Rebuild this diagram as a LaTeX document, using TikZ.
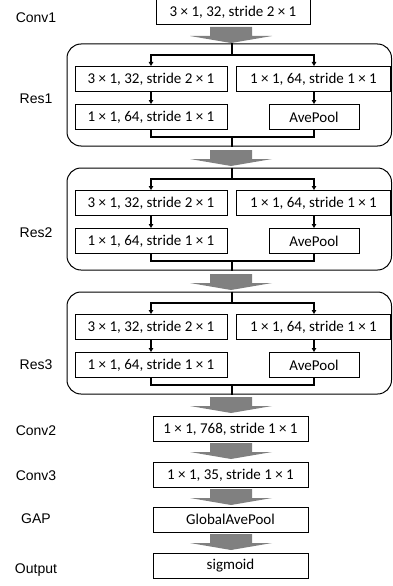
\documentclass[tikz,border=0pt]{standalone}
\usepackage{fontspec}
\setmainfont{Carlito}
\newfontfamily\labfont{Liberation Sans}
\usetikzlibrary{arrows.meta}
\newcommand\resblock[4]{%
  \node[outerbox] (#1) at (229.25,#2+51) {};
  \node[lab] at (36,#3) {#4};
  \node[box, minimum width=152pt] (#1a) at (151,#2+35) {3 × 1, 32, stride 2 × 1};
  \node[box, minimum width=154pt] (#1b) at (313.5,#2+35) {1 × 1, 64, stride 1 × 1};
  \node[box, minimum width=152pt] (#1c) at (151,#2+73) {1 × 1, 64, stride 1 × 1};
  \node[box, minimum width=90pt] (#1d) at (314,#2+73) {AvePool};
  \coordinate (#1t) at (232,#2+11);
  \coordinate (#1u) at (232,#2+93);
  \draw[con] (#1.north -| #1t) -- (#1t);
  \draw[arr] (#1t) -| (#1a.north);
  \draw[arr] (#1t) -| (#1b.north -| #1d.north);
  \draw[arr] (#1a) -- (#1c);
  \draw[arr] (#1b.south -| #1d.north) -- (#1d.north);
  \draw[con] (#1c.south) |- (#1u) -| (#1d.south);
  \draw[con] (#1u) -- (#1.south -| #1u);
}
\newcommand\bigarrow[2]{%
  \fill[bigarr] (210,#1) -- (252,#1) -- (252,#1+9) -- (272,#1+9) -- (231,#2)
    -- (190,#1+9) -- (210,#1+9) -- cycle;
}
\begin{document}
\begin{tikzpicture}[x=1pt,y=-1pt,
  box/.style={draw, line width=1pt, minimum height=25pt, inner sep=0pt,
    font=\fontsize{15}{17}\selectfont},
  lab/.style={font=\labfont\fontsize{14}{16}\selectfont, anchor=base, inner sep=0pt},
  con/.style={line width=1.3pt},
  arr/.style={con, -{Triangle[length=4pt,width=4.5pt]}},
  outerbox/.style={draw, line width=1pt, rounded corners=14pt,
    minimum width=324.5pt, minimum height=102pt, inner sep=0pt},
  bigarr/.style={fill=black!50}]
\useasboundingbox (0,0) rectangle (393,586);
% Conv1
\node[box, minimum width=154pt] (conv1) at (233,12.5) {3 × 1, 32, stride 2 × 1};
\node[lab] at (36,23) {Conv1};
\bigarrow{27}{43}
\resblock{res1}{44}{103}{Res1}
\bigarrow{150}{166}
\resblock{res2}{168}{237}{Res2}
\bigarrow{274}{290}
\resblock{res3}{292}{369}{Res3}
\bigarrow{397}{413}
\node[box, minimum width=155pt] (conv2) at (230.5,429) {1 × 1, 768, stride 1 × 1};
\node[lab] at (36,435) {Conv2};
\bigarrow{443}{459}
\node[box, minimum width=155pt] (conv3) at (230.5,475) {1 × 1, 35, stride 1 × 1};
\node[lab] at (36,480) {Conv3};
\bigarrow{489}{505}
\node[box, minimum width=155pt] (gap) at (230.5,519.5) {GlobalAvePool};
\node[lab] at (36,523) {GAP};
\bigarrow{534}{550}
\node[box, minimum width=155pt] (sig) at (230.5,566) {sigmoid};
\node[lab] at (36,573) {Output};
\end{tikzpicture}
\end{document}
